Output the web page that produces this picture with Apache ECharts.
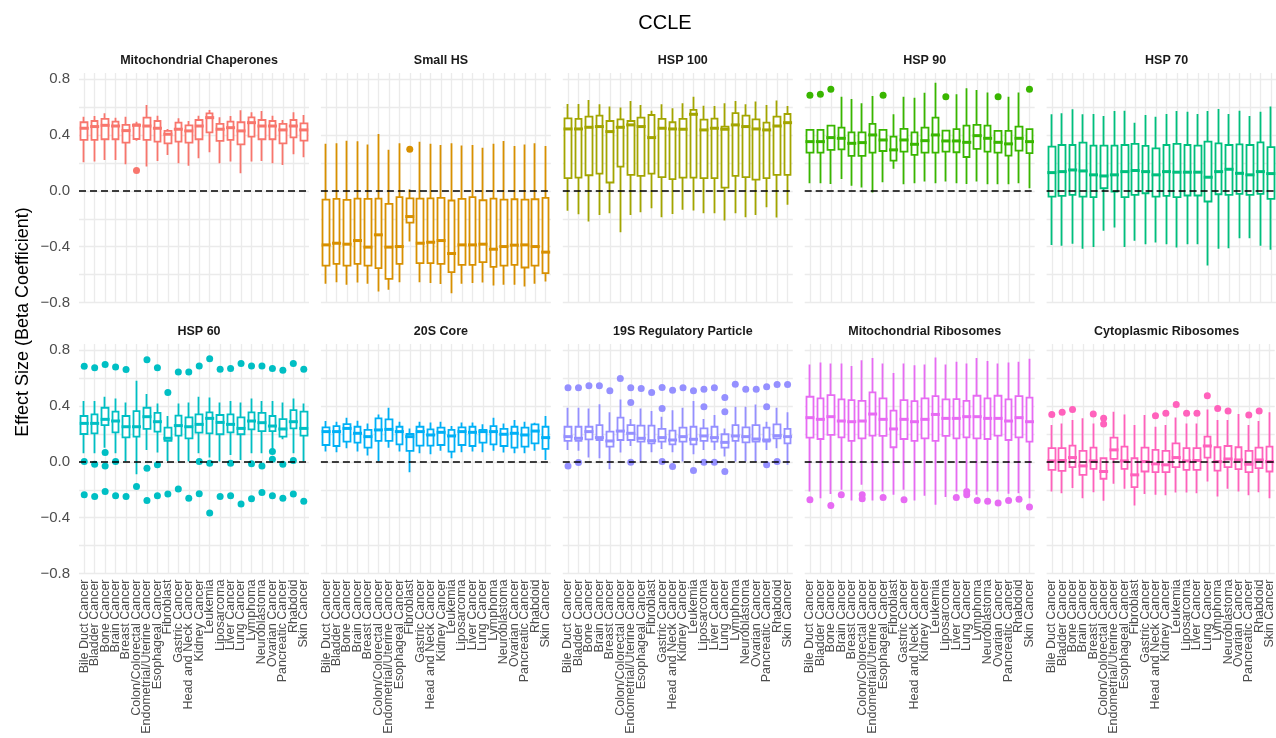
<!DOCTYPE html>
<html>
<head>
<meta charset="utf-8">
<script src="https://cdn.jsdelivr.net/npm/echarts@6/dist/echarts.min.js"></script>
<style>
  html, body { margin: 0; padding: 0; background: #fff; }
  #chart { width: 1276px; height: 738px; }
</style>
</head>
<body>
<div id="chart"></div>
<script>
// categories shared by every facet
var cancerTypes = ['Bile Duct Cancer', 'Bladder Cancer', 'Bone Cancer', 'Brain Cancer', 'Breast Cancer',
  'Colon/Colorectal Cancer', 'Endometrial/Uterine Cancer', 'Esophageal Cancer', 'Fibroblast', 'Gastric Cancer',
  'Head and Neck Cancer', 'Kidney Cancer', 'Leukemia', 'Liposarcoma', 'Liver Cancer', 'Lung Cancer',
  'Lymphoma', 'Neuroblastoma', 'Ovarian Cancer', 'Pancreatic Cancer', 'Rhabdoid', 'Skin Cancer'];

var facetTitles = ['Mitochondrial Chaperones', 'Small HS', 'HSP 100', 'HSP 90', 'HSP 70',
  'HSP 60', '20S Core', '19S Regulatory Particle', 'Mitochondrial Ribosomes', 'Cytoplasmic Ribosomes'];

var yTicks = [-0.8, -0.4, 0, 0.4, 0.8];

// each row: [lower whisker, q1, median, q3, upper whisker]
var mitoChaperones = [
  [0.205, 0.365, 0.449, 0.492, 0.532], [0.21, 0.365, 0.461, 0.501, 0.537], [0.222, 0.37, 0.47, 0.516, 0.556],
  [0.222, 0.37, 0.465, 0.496, 0.525], [0.191, 0.346, 0.432, 0.473, 0.532], [0.36, 0.372, 0.47, 0.477, 0.496],
  [0.174, 0.365, 0.465, 0.525, 0.616], [0.215, 0.353, 0.449, 0.501, 0.539], [0.258, 0.341, 0.406, 0.43, 0.444],
  [0.198, 0.353, 0.442, 0.489, 0.52], [0.181, 0.346, 0.43, 0.47, 0.501], [0.234, 0.37, 0.465, 0.508, 0.539],
  [0.277, 0.42, 0.525, 0.556, 0.58], [0.198, 0.358, 0.442, 0.48, 0.527], [0.21, 0.365, 0.453, 0.496, 0.537],
  [0.126, 0.334, 0.43, 0.492, 0.578], [0.21, 0.389, 0.489, 0.527, 0.563], [0.215, 0.37, 0.465, 0.508, 0.573],
  [0.198, 0.37, 0.465, 0.501, 0.539], [0.186, 0.341, 0.437, 0.48, 0.508], [0.263, 0.384, 0.465, 0.508, 0.563],
  [0.241, 0.36, 0.437, 0.484, 0.544]
];
var mitoChaperonesOut = [[5, 0.146]];

var smallHS = [
  [-0.666, -0.535, -0.387, -0.062, 0.337], [-0.654, -0.523, -0.375, -0.057, 0.341], [-0.673, -0.535, -0.382, -0.064, 0.36],
  [-0.656, -0.523, -0.356, -0.055, 0.356], [-0.666, -0.535, -0.403, -0.057, 0.332], [-0.721, -0.554, -0.315, -0.055, 0.408],
  [-0.709, -0.63, -0.403, -0.093, 0.294], [-0.654, -0.523, -0.399, -0.045, 0.341], [-0.363, -0.227, -0.184, -0.053, 0.012],
  [-0.654, -0.518, -0.375, -0.055, 0.353], [-0.661, -0.518, -0.368, -0.053, 0.337], [-0.668, -0.523, -0.356, -0.05, 0.329],
  [-0.733, -0.582, -0.449, -0.069, 0.341], [-0.666, -0.53, -0.387, -0.057, 0.325], [-0.661, -0.53, -0.387, -0.045, 0.329],
  [-0.656, -0.511, -0.382, -0.067, 0.31], [-0.678, -0.544, -0.418, -0.055, 0.337], [-0.673, -0.535, -0.399, -0.062, 0.358],
  [-0.673, -0.53, -0.389, -0.06, 0.322], [-0.685, -0.549, -0.387, -0.062, 0.332], [-0.666, -0.535, -0.399, -0.06, 0.341],
  [-0.649, -0.589, -0.439, -0.05, 0.322]
];
var smallHSOut = [[8, 0.298]];

var hsp100 = [
  [-0.143, 0.091, 0.444, 0.52, 0.623], [-0.167, 0.095, 0.444, 0.516, 0.623], [-0.22, 0.112, 0.456, 0.532, 0.652],
  [-0.172, 0.124, 0.461, 0.539, 0.621], [-0.16, 0.06, 0.425, 0.501, 0.604], [-0.296, 0.174, 0.456, 0.513, 0.597],
  [-0.172, 0.115, 0.473, 0.501, 0.644], [-0.153, 0.107, 0.461, 0.525, 0.616], [-0.124, 0.124, 0.382, 0.544, 0.575],
  [-0.189, 0.098, 0.449, 0.516, 0.621], [-0.165, 0.084, 0.444, 0.492, 0.592], [-0.136, 0.095, 0.442, 0.516, 0.628],
  [-0.141, 0.095, 0.549, 0.58, 0.675], [-0.16, 0.091, 0.437, 0.511, 0.611], [-0.16, 0.091, 0.449, 0.518, 0.609],
  [-0.212, 0.024, 0.442, 0.461, 0.628], [-0.16, 0.107, 0.473, 0.558, 0.644], [-0.189, 0.098, 0.461, 0.539, 0.621],
  [-0.172, 0.081, 0.444, 0.513, 0.64], [-0.117, 0.091, 0.437, 0.489, 0.616], [-0.191, 0.115, 0.465, 0.532, 0.647],
  [-0.1, 0.115, 0.489, 0.551, 0.609]
];
var hsp100Out = [];

var hsp90 = [
  [0.055, 0.274, 0.353, 0.437, 0.437], [0.055, 0.274, 0.353, 0.437, 0.437], [0.05, 0.294, 0.382, 0.468, 0.468],
  [0.086, 0.298, 0.377, 0.453, 0.675], [0.036, 0.251, 0.341, 0.42, 0.659], [0.024, 0.251, 0.346, 0.42, 0.628],
  [-0.012, 0.274, 0.401, 0.48, 0.68], [0.062, 0.286, 0.365, 0.437, 0.437], [0.158, 0.217, 0.294, 0.389, 0.549],
  [0.048, 0.282, 0.365, 0.444, 0.675], [0.055, 0.258, 0.334, 0.42, 0.668], [0.067, 0.274, 0.36, 0.453, 0.704],
  [0.055, 0.274, 0.401, 0.525, 0.776], [0.067, 0.282, 0.358, 0.432, 0.432], [0.055, 0.277, 0.358, 0.442, 0.692],
  [0.05, 0.243, 0.348, 0.468, 0.735], [0.067, 0.301, 0.396, 0.473, 0.723], [0.048, 0.282, 0.377, 0.468, 0.706],
  [0.048, 0.274, 0.348, 0.43, 0.43], [0.048, 0.253, 0.337, 0.43, 0.675], [0.055, 0.289, 0.377, 0.461, 0.706],
  [0.019, 0.27, 0.353, 0.442, 0.442]
];
var hsp90Out = [[0, 0.685], [1, 0.692], [2, 0.728], [7, 0.685], [13, 0.675], [18, 0.675], [21, 0.728]];

var hsp70 = [
  [-0.387, -0.041, 0.131, 0.317, 0.549], [-0.394, -0.036, 0.138, 0.329, 0.556], [-0.379, -0.029, 0.15, 0.329, 0.585],
  [-0.415, -0.041, 0.143, 0.346, 0.549], [-0.403, -0.045, 0.115, 0.325, 0.551], [-0.286, 0.019, 0.107, 0.325, 0.537],
  [-0.263, -0.005, 0.115, 0.325, 0.573], [-0.403, -0.045, 0.138, 0.329, 0.575], [-0.358, -0.029, 0.146, 0.337, 0.489],
  [-0.382, -0.017, 0.138, 0.322, 0.544], [-0.37, -0.041, 0.115, 0.305, 0.532], [-0.382, -0.036, 0.138, 0.329, 0.551],
  [-0.406, -0.045, 0.134, 0.337, 0.573], [-0.382, -0.033, 0.134, 0.329, 0.568], [-0.382, -0.033, 0.134, 0.325, 0.551],
  [-0.535, -0.076, 0.098, 0.353, 0.573], [-0.415, -0.024, 0.138, 0.341, 0.587], [-0.411, -0.029, 0.155, 0.329, 0.551],
  [-0.339, -0.021, 0.126, 0.334, 0.575], [-0.339, -0.029, 0.115, 0.329, 0.537], [-0.394, -0.021, 0.138, 0.348, 0.568],
  [-0.422, -0.057, 0.124, 0.313, 0.604]
];
var hsp70Out = [];

var hsp60 = [
  [0.062, 0.2, 0.276, 0.329, 0.436], [0.062, 0.205, 0.276, 0.34, 0.436], [0.102, 0.264, 0.305, 0.388, 0.467],
  [0.062, 0.212, 0.293, 0.36, 0.455], [0.002, 0.176, 0.252, 0.329, 0.426], [-0.088, 0.181, 0.252, 0.364, 0.581],
  [0.086, 0.236, 0.324, 0.388, 0.486], [0.067, 0.217, 0.288, 0.352, 0.419], [0.007, 0.15, 0.169, 0.245, 0.329],
  [0.002, 0.188, 0.26, 0.331, 0.419], [0.002, 0.169, 0.252, 0.319, 0.426], [0.062, 0.21, 0.269, 0.34, 0.467],
  [0.031, 0.205, 0.312, 0.355, 0.462], [0.002, 0.198, 0.283, 0.336, 0.426], [0.05, 0.212, 0.269, 0.34, 0.436],
  [0.014, 0.198, 0.24, 0.319, 0.426], [0.062, 0.233, 0.293, 0.355, 0.455], [0.062, 0.221, 0.281, 0.352, 0.436],
  [0.062, 0.221, 0.257, 0.329, 0.436], [0.162, 0.181, 0.236, 0.307, 0.426], [0.062, 0.24, 0.288, 0.371, 0.455],
  [0.002, 0.188, 0.24, 0.36, 0.419]
];
var hsp60Out = [
  [0, 0.686], [0, 0.002], [0, -0.236], [1, 0.674], [1, -0.017], [1, -0.248],
  [2, 0.698], [2, 0.067], [2, -0.029], [2, -0.212], [3, 0.681], [3, 0.002], [3, -0.243],
  [4, 0.662], [4, -0.248], [5, -0.176], [6, 0.733], [6, -0.045], [6, -0.276],
  [7, 0.674], [7, -0.021], [7, -0.243], [8, 0.498], [8, -0.231], [9, 0.645], [9, -0.195],
  [10, 0.645], [10, -0.26], [11, 0.688], [11, 0.002], [11, -0.229], [12, 0.74], [12, -0.01], [12, -0.367],
  [13, 0.664], [13, -0.248], [14, 0.669], [14, -0.01], [14, -0.243], [15, 0.705], [15, -0.302],
  [16, 0.688], [16, -0.014], [16, -0.264], [17, 0.688], [17, -0.029], [17, -0.219],
  [18, 0.669], [18, 0.074], [18, 0.019], [18, -0.243], [19, 0.657], [19, -0.017], [19, -0.26],
  [20, 0.705], [20, 0.01], [20, -0.231], [21, 0.664], [21, -0.283]
];

var core20S = [
  [0.074, 0.121, 0.217, 0.248, 0.293], [0.069, 0.114, 0.217, 0.257, 0.288], [0.098, 0.145, 0.24, 0.271, 0.317],
  [0.074, 0.138, 0.205, 0.252, 0.295], [0.045, 0.102, 0.181, 0.229, 0.276], [0.002, 0.15, 0.229, 0.312, 0.34],
  [0.102, 0.15, 0.233, 0.305, 0.388], [0.074, 0.126, 0.217, 0.252, 0.288], [-0.074, 0.079, 0.181, 0.2, 0.24],
  [0.062, 0.117, 0.217, 0.252, 0.288], [0.055, 0.117, 0.193, 0.233, 0.283], [0.079, 0.121, 0.212, 0.245, 0.288],
  [0.026, 0.074, 0.186, 0.229, 0.257], [0.069, 0.121, 0.217, 0.248, 0.283], [0.074, 0.114, 0.212, 0.252, 0.283],
  [0.069, 0.138, 0.217, 0.229, 0.269], [0.079, 0.126, 0.217, 0.257, 0.317], [0.067, 0.114, 0.198, 0.236, 0.276],
  [0.062, 0.102, 0.205, 0.252, 0.3], [0.062, 0.11, 0.193, 0.245, 0.288], [0.079, 0.133, 0.221, 0.269, 0.281],
  [0.014, 0.093, 0.174, 0.252, 0.329]
];
var core20SOut = [];

var regParticle19S = [
  [0.086, 0.15, 0.181, 0.252, 0.388], [0.079, 0.15, 0.169, 0.252, 0.388], [0.031, 0.162, 0.217, 0.252, 0.383],
  [0.026, 0.157, 0.174, 0.264, 0.414], [-0.052, 0.11, 0.15, 0.217, 0.355], [0.067, 0.157, 0.221, 0.317, 0.448],
  [0.114, 0.157, 0.205, 0.264, 0.307], [0.002, 0.145, 0.169, 0.26, 0.383], [0.069, 0.133, 0.152, 0.26, 0.364],
  [0.093, 0.145, 0.174, 0.236, 0.324], [0.069, 0.126, 0.157, 0.224, 0.371], [0.002, 0.145, 0.181, 0.245, 0.388],
  [0.055, 0.126, 0.162, 0.252, 0.436], [0.086, 0.15, 0.186, 0.24, 0.307], [0.086, 0.145, 0.174, 0.252, 0.336],
  [0.038, 0.102, 0.14, 0.198, 0.24], [0.002, 0.15, 0.186, 0.264, 0.395], [0.002, 0.14, 0.181, 0.248, 0.395],
  [0.002, 0.145, 0.164, 0.264, 0.412], [0.086, 0.145, 0.157, 0.245, 0.288], [0.098, 0.169, 0.188, 0.269, 0.388],
  [-0.021, 0.133, 0.181, 0.236, 0.355]
];
var regParticle19SOut = [
  [0, 0.531], [0, -0.029], [1, 0.531], [1, -0.005], [2, 0.545], [3, 0.545], [4, 0.51], [5, 0.598],
  [6, 0.531], [6, 0.426], [6, -0.002], [7, 0.526], [8, 0.498], [9, 0.533], [9, 0.383], [9, 0.002],
  [10, 0.514], [10, -0.033], [11, 0.531], [12, 0.51], [12, -0.062], [13, 0.521], [13, 0.395], [13, -0.002],
  [14, 0.531], [14, -0.002], [15, 0.462], [15, 0.36], [15, -0.069], [16, 0.557], [17, 0.521], [18, 0.521],
  [19, 0.538], [19, 0.395], [19, -0.021], [20, 0.555], [20, 0.002], [21, 0.555]
];

var mitoRibosomes = [
  [-0.212, 0.174, 0.317, 0.467, 0.698], [-0.26, 0.164, 0.305, 0.455, 0.712], [-0.231, 0.193, 0.324, 0.479, 0.705],
  [-0.2, 0.176, 0.293, 0.448, 0.705], [-0.276, 0.15, 0.288, 0.443, 0.688], [-0.164, 0.169, 0.293, 0.438, 0.729],
  [-0.276, 0.188, 0.343, 0.498, 0.745], [-0.212, 0.186, 0.305, 0.455, 0.705], [-0.236, 0.105, 0.236, 0.367, 0.638],
  [-0.2, 0.164, 0.305, 0.443, 0.705], [-0.276, 0.15, 0.288, 0.436, 0.693], [-0.243, 0.169, 0.305, 0.455, 0.698],
  [-0.307, 0.15, 0.34, 0.471, 0.748], [-0.252, 0.186, 0.312, 0.448, 0.698], [-0.212, 0.169, 0.312, 0.45, 0.717],
  [-0.188, 0.176, 0.324, 0.438, 0.705], [-0.236, 0.169, 0.324, 0.474, 0.745], [-0.212, 0.164, 0.312, 0.455, 0.724],
  [-0.212, 0.188, 0.312, 0.474, 0.705], [-0.229, 0.157, 0.293, 0.448, 0.712], [-0.224, 0.176, 0.317, 0.471, 0.717],
  [-0.26, 0.145, 0.288, 0.46, 0.74]
];
var mitoRibosomesOut = [
  [0, -0.271], [2, -0.312], [3, -0.236], [5, -0.236], [5, -0.264], [7, -0.255], [9, -0.271],
  [14, -0.255], [15, -0.212], [15, -0.236], [16, -0.276], [17, -0.283], [18, -0.295], [19, -0.276],
  [20, -0.267], [21, -0.324]
];

var cytoRibosomes = [
  [-0.212, -0.057, 0.007, 0.098, 0.264], [-0.224, -0.064, 0.01, 0.098, 0.276], [-0.188, -0.038, 0.031, 0.117, 0.3],
  [-0.26, -0.093, -0.029, 0.079, 0.312], [-0.217, -0.05, 0.007, 0.102, 0.276], [-0.279, -0.121, -0.069, 0.026, 0.03],
  [-0.157, 0.021, 0.086, 0.174, 0.36], [-0.193, -0.05, 0.007, 0.11, 0.34], [-0.312, -0.181, -0.093, 0.026, 0.264],
  [-0.231, -0.069, 0.002, 0.102, 0.336], [-0.236, -0.074, -0.014, 0.086, 0.252], [-0.24, -0.074, -0.021, 0.079, 0.264],
  [-0.219, -0.038, 0.031, 0.133, 0.319], [-0.219, -0.057, 0.007, 0.098, 0.276], [-0.224, -0.057, 0.01, 0.098, 0.276],
  [-0.14, 0.031, 0.114, 0.181, 0.376], [-0.248, -0.062, 0.002, 0.105, 0.3], [-0.193, -0.038, 0.021, 0.114, 0.3],
  [-0.212, -0.052, 0.014, 0.105, 0.343], [-0.24, -0.074, -0.017, 0.079, 0.264], [-0.217, -0.045, 0.014, 0.102, 0.293],
  [-0.26, -0.069, 0.002, 0.11, 0.355]
];
var cytoRibosomesOut = [
  [0, 0.34], [1, 0.355], [2, 0.376], [4, 0.343], [5, 0.312], [5, 0.271], [10, 0.331], [11, 0.348],
  [12, 0.412], [13, 0.348], [14, 0.348], [15, 0.474], [16, 0.383], [17, 0.364], [19, 0.336], [20, 0.364]
];

var facetBoxes = [mitoChaperones, smallHS, hsp100, hsp90, hsp70, hsp60, core20S, regParticle19S, mitoRibosomes, cytoRibosomes];
var facetOutliers = [mitoChaperonesOut, smallHSOut, hsp100Out, hsp90Out, hsp70Out, hsp60Out, core20SOut,
  regParticle19SOut, mitoRibosomesOut, cytoRibosomesOut];
var colors = ['#F8766D', '#D89000', '#A3A500', '#39B600', '#00BF7D', '#00BFC4', '#00B0F6', '#9590FF', '#E76BF3', '#FF62BC'];

var FONT = 'Liberation Sans, Arial, Helvetica, sans-serif';
var myChart = echarts.init(document.getElementById('chart'));

var grids = [], xAxes = [], yAxes = [], series = [], titles = [];
var gridW = 230, gridH = 229.5;

for (var i = 0; i < 10; i++) {
  var row = Math.floor(i / 5), col = i % 5;
  var gridLeft = 79 + 241.9 * col;
  var gridTop = row === 0 ? 73 : 344;
  grids.push({ left: gridLeft, top: gridTop, width: gridW, height: gridH });

  titles.push({
    text: facetTitles[i],
    left: gridLeft + gridW / 2,
    top: row === 0 ? 49 : 320,
    textAlign: 'center',
    textStyle: { fontFamily: FONT, fontSize: 12.5, fontWeight: 'bold', color: '#1a1a1a' }
  });

  xAxes.push({
    type: 'category',
    gridIndex: i,
    data: cancerTypes,
    boundaryGap: true,
    axisLine: { show: false },
    axisTick: { show: false },
    axisLabel: {
      show: row === 1,
      interval: 0,
      rotate: 90,
      margin: 6,
      hideOverlap: false,
      fontFamily: FONT,
      fontSize: 12.5,
      color: '#4d4d4d'
    },
    splitLine: { show: true, interval: 0, alignWithLabel: true, lineStyle: { color: '#ebebeb', width: 1.3 } }
  });

  yAxes.push({
    type: 'value',
    gridIndex: i,
    min: -0.8,
    max: 0.845,
    interval: 0.2,
    axisLine: { show: false },
    axisTick: { show: false },
    axisLabel: {
      show: col === 0,
      showMaxLabel: false,
      margin: 9,
      fontFamily: FONT,
      fontSize: 15,
      color: '#4d4d4d',
      formatter: function (v) {
        var r = Math.round(v * 10) / 10;
        var hit = yTicks.some(function (t) { return Math.abs(t - v) < 1e-6; });
        if (!hit) return '';
        return r < 0 ? '\u2212' + Math.abs(r).toFixed(1) : r.toFixed(1);
      }
    },
    splitLine: { show: true, showMaxLine: false, lineStyle: { color: '#ebebeb', width: 1.3 } }
  });

  var c = colors[i];
  var rows = facetBoxes[i];

  // box + whiskers (no caps, like ggplot): open=q1, close=q3, low, high
  series.push({
    type: 'candlestick',
    xAxisIndex: i,
    yAxisIndex: i,
    barWidth: 7,
    silent: true,
    itemStyle: {
      color: '#ffffff', color0: '#ffffff',
      borderColor: c, borderColor0: c, borderColorDoji: c,
      borderWidth: 1.8
    },
    data: rows.map(function (r) { return [r[1], r[3], r[0], r[4]]; })
  });

  // thick median bar
  series.push({
    type: 'scatter',
    xAxisIndex: i,
    yAxisIndex: i,
    symbol: 'rect',
    symbolSize: [9, 3],
    silent: true,
    itemStyle: { color: c, opacity: 1 },
    data: rows.map(function (r) { return r[2]; })
  });

  // outliers + dashed zero line
  series.push({
    type: 'scatter',
    xAxisIndex: i,
    yAxisIndex: i,
    symbol: 'circle',
    symbolSize: 7,
    silent: true,
    itemStyle: { color: c, opacity: 1 },
    data: facetOutliers[i],
    markLine: {
      silent: true,
      symbol: 'none',
      label: { show: false },
      lineStyle: { color: '#000', type: [7, 4], width: 1.6 },
      data: [{ yAxis: 0 }]
    }
  });
}

titles.push({
  text: 'CCLE',
  left: 660,
  top: 8,
  textAlign: 'center',
  textStyle: { fontFamily: FONT, fontSize: 20, fontWeight: 'normal', color: '#000' }
});

var option = {
  animation: false,
  backgroundColor: '#ffffff',
  title: titles,
  grid: grids,
  xAxis: xAxes,
  yAxis: yAxes,
  series: series,
  graphic: [{
    type: 'text',
    x: 23,
    y: 322,
    rotation: Math.PI / 2,
    style: {
      text: 'Effect Size (Beta Coefficient)',
      font: '18px ' + FONT,
      fill: '#000',
      align: 'center',
      verticalAlign: 'middle',
      textAlign: 'center',
      textVerticalAlign: 'middle'
    }
  }]
};

myChart.setOption(option);
</script>
</body>
</html>
